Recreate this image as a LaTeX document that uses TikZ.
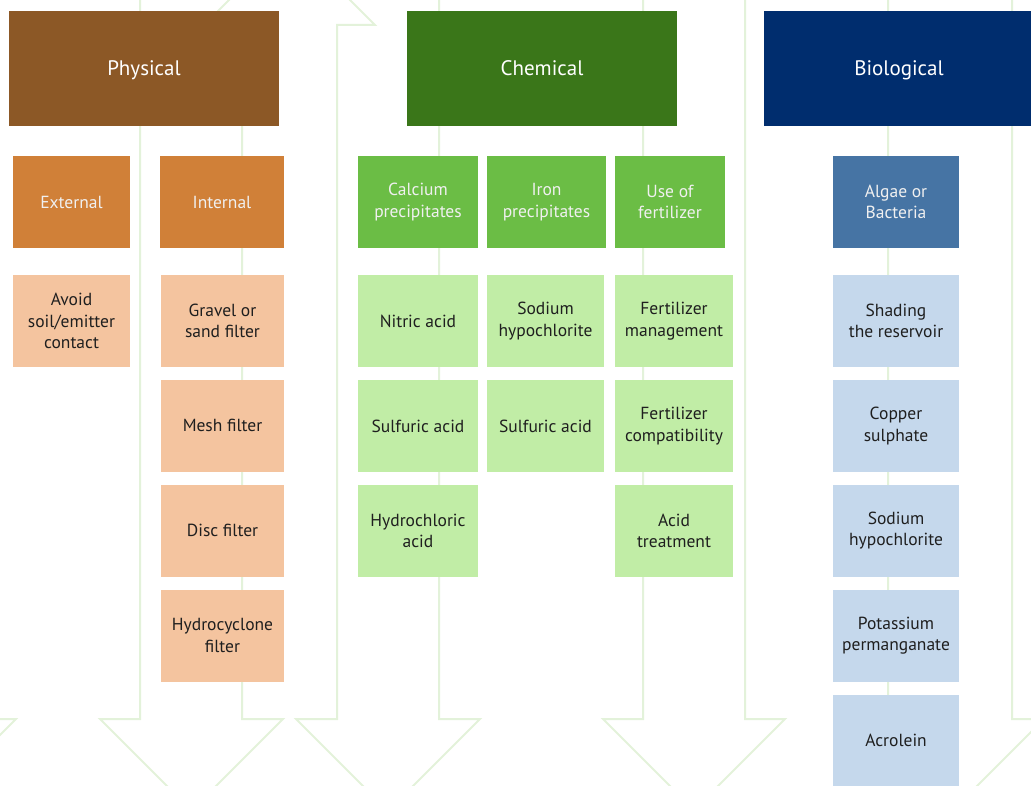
\documentclass[tikz,border=0pt]{standalone}
\usepackage{fontspec}
\setmainfont{PT Sans}
\usetikzlibrary{positioning}
\definecolor{physdark}{HTML}{8C5826}
\definecolor{physmid}{HTML}{D08038}
\definecolor{physlight}{HTML}{F4C49F}
\definecolor{chemdark}{HTML}{3A7619}
\definecolor{chemmid}{HTML}{6BBD45}
\definecolor{chemlight}{HTML}{C1EDA6}
\definecolor{biodark}{HTML}{002D6E}
\definecolor{biomid}{HTML}{4674A4}
\definecolor{biolight}{HTML}{C5D8EC}
\definecolor{flowgreen}{HTML}{E3F2DA}

\begin{document}
\begin{tikzpicture}[x=1pt,y=-1pt,node distance=12.5pt,font=\fontsize{17.5}{21.5}\selectfont,
  head/.style={minimum width=270pt,minimum height=115pt,inner sep=0pt,text=white,text height=18pt,text depth=3pt,font=\fontsize{21}{25}\selectfont},
  cat/.style={minimum height=92pt,inner sep=0pt,align=center,text=white!94!black},
  leaf/.style={minimum height=92pt,inner sep=0pt,align=center,text=black!88},
  flow/.style={draw=flowgreen,line width=2pt}]
\useasboundingbox (0,0) rectangle (1031,786);
\clip (0,0) rectangle (1031,786);
% background arrows
\draw[flow] (-24,0) -- (-24,719) -- (16,719) -- (-75,810);
\draw[flow] (140,0) -- (140,719) -- (100,719) -- (191.5,810.5) -- (283,719) -- (242,719) -- (242,25)
  -- (204,25) -- (289.5,-60.5) -- (375,25) -- (337,25) -- (337,719) -- (296,719) -- (388,811) -- (480,719) -- (439,719) -- (439,0);
\draw[flow] (643,0) -- (643,719) -- (603,719) -- (694,810) -- (785,719) -- (745,719) -- (745,0);
\draw[flow] (888,0) -- (888,719) -- (848,719) -- (946,817) -- (1044,719) -- (1012,719) -- (1012,0);
% main groups
\node[head,fill=physdark] (phys) at (144,68.5) {Physical};
\node[head,fill=chemdark] (chem) at (542,68.5) {Chemical};
\node[head,fill=biodark] (bio) at (899,68.5) {Biological};
% physical
\node[cat,fill=physmid,minimum width=117pt] (ext) at (71.5,202) {External};
\node[cat,fill=physmid,minimum width=124pt] (int) at (222,202) {Internal};
\node[leaf,fill=physlight,minimum width=117pt] (avoid) at (71.5,321) {Avoid\\soil/emitter\\contact};
\node[leaf,fill=physlight,minimum width=123pt] (gravel) at (222.5,321) {Gravel or\\sand filter};
\node[leaf,fill=physlight,minimum width=123pt,below=of gravel] (mesh) {Mesh filter};
\node[leaf,fill=physlight,minimum width=123pt,below=of mesh] (disc) {Disc filter};
\node[leaf,fill=physlight,minimum width=123pt,below=of disc] (hydro) {Hydrocyclone\\filter};
% chemical
\node[cat,fill=chemmid,minimum width=120pt] (calc) at (418,202) {Calcium\\precipitates};
\node[cat,fill=chemmid,minimum width=119pt] (iron) at (546.5,202) {Iron\\precipitates};
\node[cat,fill=chemmid,minimum width=110pt] (fert) at (670,202) {Use of\\fertilizer};
\node[leaf,fill=chemlight,minimum width=120pt] (nitric) at (418,321) {Nitric acid};
\node[leaf,fill=chemlight,minimum width=120pt,below=of nitric] (sulfa) {Sulfuric acid};
\node[leaf,fill=chemlight,minimum width=120pt,below=of sulfa] (hcl) {Hydrochloric\\acid};
\node[leaf,fill=chemlight,minimum width=117pt] (hypoa) at (545.5,321) {Sodium\\hypochlorite};
\node[leaf,fill=chemlight,minimum width=117pt,below=of hypoa] (sulfb) {Sulfuric acid};
\node[leaf,fill=chemlight,minimum width=118pt] (fmgmt) at (674,321) {Fertilizer\\management};
\node[leaf,fill=chemlight,minimum width=118pt,below=of fmgmt] (fcomp) {Fertilizer\\compatibility};
\node[leaf,fill=chemlight,minimum width=118pt,below=of fcomp] (acid) {Acid\\treatment};
% biological
\node[cat,fill=biomid,minimum width=126pt] (algae) at (896,202) {Algae or\\Bacteria};
\node[leaf,fill=biolight,minimum width=126pt] (shade) at (896,321) {Shading\\the reservoir};
\node[leaf,fill=biolight,minimum width=126pt,below=of shade] (copper) {Copper\\sulphate};
\node[leaf,fill=biolight,minimum width=126pt,below=of copper] (hypob) {Sodium\\hypochlorite};
\node[leaf,fill=biolight,minimum width=126pt,below=of hypob] (perm) {Potassium\\permanganate};
\node[leaf,fill=biolight,minimum width=126pt,below=of perm] (acro) {Acrolein};
\end{tikzpicture}
\end{document}
